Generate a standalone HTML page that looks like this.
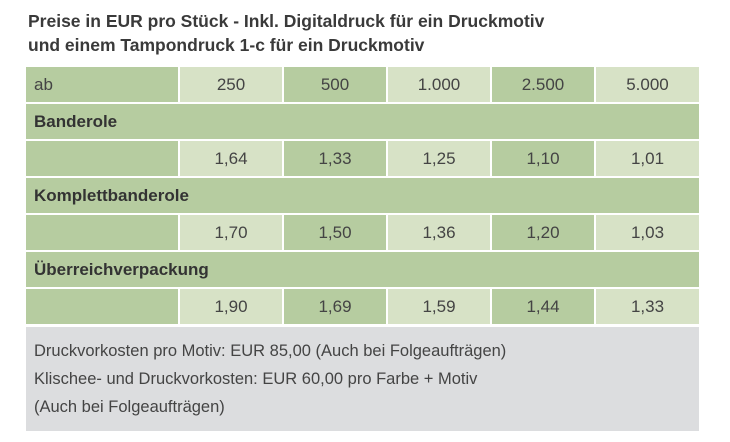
<!DOCTYPE html>
<html><head><meta charset="utf-8"><style>
body{margin:0;width:730px;height:442px;background:#fff;font-family:"Liberation Sans",sans-serif;color:#3c3c3c;position:relative;overflow:hidden}
.t{position:absolute;left:28px;font-size:17.5px;font-weight:bold;color:#3a3a3a;white-space:nowrap}
.c{position:absolute;box-sizing:border-box;font-size:17px;display:flex;align-items:center;justify-content:center;color:#444}
.d{background:#b6cca0}.l{background:#d7e2c6}
.lbl{justify-content:flex-start;padding-left:8px}
.b{font-weight:bold;color:#333}
.g{position:absolute;left:26px;top:327px;width:673px;height:104px;background:#dcdddf}
.g div{position:absolute;left:8px;font-size:16.5px;color:#444;white-space:nowrap}
</style></head><body>
<div class="t" style="top:11px">Preise in EUR pro Stück - Inkl. Digitaldruck für ein Druckmotiv</div>
<div class="t" style="top:35px">und einem Tampondruck 1-c für ein Druckmotiv</div>
<div id="tbl"></div>
<div class="g">
<div style="top:15px">Druckvorkosten pro Motiv: EUR 85,00 (Auch bei Folgeaufträgen)</div>
<div style="top:43px">Klischee- und Druckvorkosten: EUR 60,00 pro Farbe + Motiv</div>
<div style="top:71px">(Auch bei Folgeaufträgen)</div>
</div>
<script>
const quantities=["250","500","1.000","2.500","5.000"];
const products=["Banderole","Komplettbanderole","Überreichverpackung"];
const prices=[["1,64","1,33","1,25","1,10","1,01"],["1,70","1,50","1,36","1,20","1,03"],["1,90","1,69","1,59","1,44","1,33"]];
const tbl=document.getElementById('tbl');
const colX=[26,180,284,388,492,596],colW=[152,102,102,102,102,103];
function cell(x,y,w,h,cls,txt,name){const d=document.createElement('div');d.className='c '+cls;d.style.left=x+'px';d.style.top=y+'px';d.style.width=w+'px';d.style.height=h+'px';d.textContent=txt;


tbl.appendChild(d);}
let y=67;
cell(26,y,152,35,'d lbl','ab','header-ab');
quantities.forEach((q,i)=>cell(colX[i+1],y,colW[i+1],35,i%2?'d':'l',q,'header-qty-'+i));
y=104;
products.forEach((p,r)=>{
 cell(26,y,673,35,'d lbl b',p,'product-row-'+r);
 y+=37;
 cell(26,y,152,35,'d','', 'price-row-label-'+r);
 prices[r].forEach((v,i)=>cell(colX[i+1],y,colW[i+1],35,i%2?'d':'l',v,'price-'+r+'-'+i));
 y+=37;
});
</script>
</body></html>
